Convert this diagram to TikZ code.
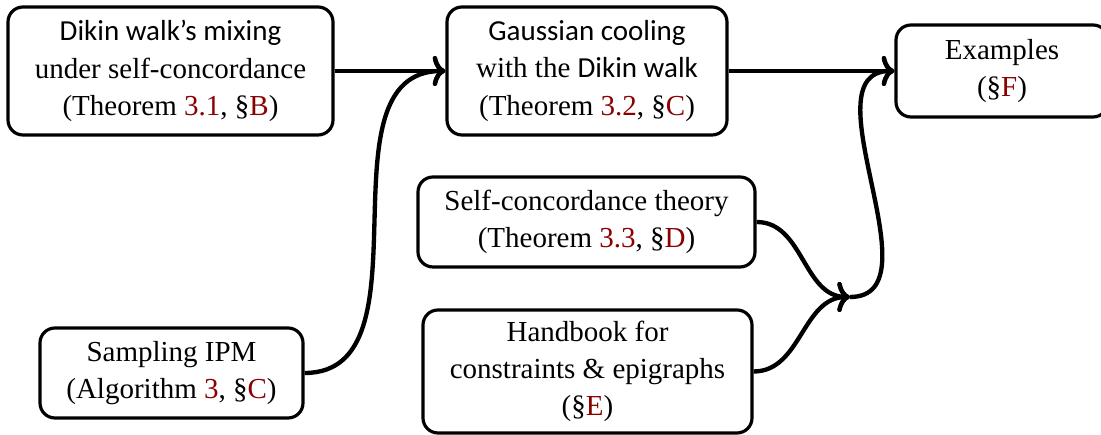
\documentclass[tikz,border=0pt]{standalone}
\usepackage{fontspec}
\setmainfont{Liberation Serif}
\newfontfamily\carl{Carlito}
\usetikzlibrary{arrows.meta}
\definecolor{mred}{RGB}{139,0,0}
\newcommand{\rr}[1]{\textcolor{mred}{#1}}
\begin{document}
\begin{tikzpicture}[x=0.3pt,y=-0.3pt,
  box/.style={draw,line width=0.95pt,rounded corners=4.5pt,inner sep=0pt,align=center,
    font=\fontsize{8.7pt}{11.2pt}\selectfont},
  conn/.style={line width=1.3pt,-{Computer Modern Rightarrow[width=9pt,length=3.8pt]}}]
\useasboundingbox (0,0) rectangle (1101,435);
\node[box,minimum width=97.5pt,minimum height=38.4pt] (A) at (170.5,71)
  {{\carl Dikin walk’s mixing}\\ under self-concordance\\ (Theorem \rr{3.1}, \S\rr{B})};
\node[box,minimum width=84pt,minimum height=38.4pt] (B) at (587,71)
  {{\carl Gaussian cooling}\\ with the {\carl Dikin walk}\\ (Theorem \rr{3.2}, \S\rr{C})};
\node[box,minimum width=63.6pt,minimum height=27.6pt] (C) at (1002,71)
  {Examples\\ (\S\rr{F})};
\node[box,minimum width=101.1pt,minimum height=27pt] (D) at (586.5,222)
  {Self-concordance theory\\ (Theorem \rr{3.3}, \S\rr{D})};
\node[box,minimum width=78.9pt,minimum height=27pt] (E) at (171.5,373)
  {Sampling IPM\\ (Algorithm \rr{3}, \S\rr{C})};
\node[box,minimum width=98.7pt,minimum height=36.9pt] (F) at (587.5,371.5)
  {Handbook for\\ constraints \& epigraphs\\ (\S\rr{E})};
\coordinate (M) at (850,297);
\draw[conn] (A.east) -- (B.west);
\draw[conn] (E.east) to[out=0,in=180] (B.west);
\draw[conn] (B.east) -- (C.west);
\draw[conn] (D.east) to[out=0,in=180] (M);
\draw[conn] (F.east) to[out=0,in=180] (M);
\draw[conn] (M) to[out=0,in=180] (C.west);
\end{tikzpicture}
\end{document}
